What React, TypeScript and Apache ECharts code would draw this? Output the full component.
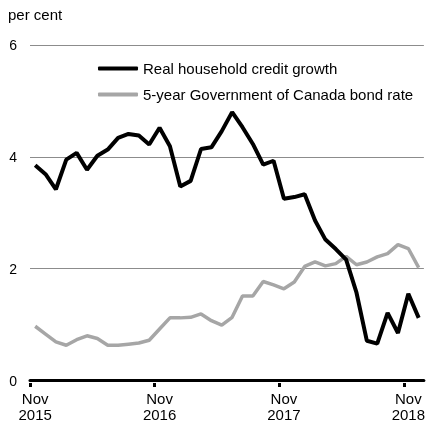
import React, { useEffect, useRef } from "react";
import * as echarts from "echarts";

const categories = [
  "Nov 2015", "Dec 2015", "Jan 2016", "Feb 2016", "Mar 2016", "Apr 2016", "May 2016", "Jun 2016",
  "Jul 2016", "Aug 2016", "Sep 2016", "Oct 2016", "Nov 2016", "Dec 2016", "Jan 2017", "Feb 2017",
  "Mar 2017", "Apr 2017", "May 2017", "Jun 2017", "Jul 2017", "Aug 2017", "Sep 2017", "Oct 2017",
  "Nov 2017", "Dec 2017", "Jan 2018", "Feb 2018", "Mar 2018", "Apr 2018", "May 2018", "Jun 2018",
  "Jul 2018", "Aug 2018", "Sep 2018", "Oct 2018", "Nov 2018", "Dec 2018",
];

const creditGrowth = [
  3.85, 3.69, 3.42, 3.95, 4.07, 3.77, 4.02, 4.13, 4.34, 4.41, 4.38, 4.22, 4.52, 4.19, 3.47, 3.57,
  4.14, 4.17, 4.46, 4.8, 4.53, 4.23, 3.86, 3.93, 3.25, 3.28, 3.33, 2.86, 2.52, 2.35, 2.16, 1.57,
  0.71, 0.66, 1.21, 0.85, 1.55, 1.12,
];

const bondRate = [
  0.97, 0.83, 0.69, 0.63, 0.73, 0.8, 0.75, 0.63, 0.63, 0.65, 0.67, 0.72, 0.92, 1.12, 1.12, 1.13,
  1.19, 1.07, 0.99, 1.13, 1.51, 1.51, 1.77, 1.71, 1.64, 1.76, 2.04, 2.12, 2.05, 2.09, 2.22, 2.07,
  2.12, 2.21, 2.27, 2.43, 2.36, 2.02,
];

const yTicks = [0, 2, 4, 6];

const seriesNames = ["Real household credit growth", "5-year Government of Canada bond rate"];

const FONT = "'Liberation Sans', Arial, sans-serif";

export default function App() {
  const ref = useRef<HTMLDivElement>(null);
  useEffect(() => {
    if (!ref.current) return;
    const chart = echarts.init(ref.current, null, { renderer: "svg" });
    const W = 428;
    const left = 30;
    const right = 3;
    const plotW = W - left - right;
    const tickGridW = (plotW * 36) / categories.length;
    chart.setOption({
      animation: false,
      textStyle: { fontFamily: FONT },
      title: {
        text: "per cent",
        left: 8,
        top: 7,
        padding: 0,
        textStyle: { fontSize: 15, fontWeight: "normal", color: "#000", fontFamily: FONT },
      },
      legend: {
        orient: "vertical",
        left: 93,
        top: 56,
        itemWidth: 40,
        itemHeight: 4,
        itemGap: 11,
        icon: "roundRect",
        data: seriesNames,
        textStyle: { fontSize: 15, color: "#000", fontFamily: FONT },
      },
      grid: [
        { left, right, top: 45, bottom: 39 },
        { left, width: tickGridW, top: 45, bottom: 39 },
      ],
      xAxis: [
        {
          type: "category",
          gridIndex: 0,
          data: categories,
          boundaryGap: true,
          axisLine: { show: true, lineStyle: { color: "#000", width: 3 } },
          axisTick: { show: false },
          axisLabel: {
            interval: (i: number) => i % 12 === 0,
            margin: 10.5,
            fontSize: 15,
            lineHeight: 15.5,
            color: "#000",
            fontFamily: FONT,
            formatter: (v: string) => v.replace(" ", "\n"),
          },
          z: 5,
        },
        {
          type: "value",
          gridIndex: 1,
          min: 0,
          max: 36,
          interval: 12,
          axisLine: { show: false },
          axisTick: { show: true, length: 4, lineStyle: { color: "#000", width: 3 } },
          splitLine: { show: false },
          axisLabel: { show: false },
        },
      ],
      yAxis: [
        {
          type: "value",
          gridIndex: 0,
          min: yTicks[0],
          max: yTicks[yTicks.length - 1],
          interval: 2,
          axisLine: { show: false },
          axisTick: { show: false },
          axisLabel: { margin: 13, fontSize: 14, color: "#000", fontFamily: FONT },
          splitLine: { show: true, lineStyle: { color: "#8c8c8c", width: 1 } },
        },
        { type: "value", gridIndex: 1, min: 0, max: 6, show: false },
      ],
      series: [
        {
          name: seriesNames[0],
          type: "line",
          xAxisIndex: 0,
          yAxisIndex: 0,
          data: creditGrowth,
          showSymbol: false,
          symbol: "none",
          lineStyle: { color: "#000", width: 4 },
          itemStyle: { color: "#000" },
          z: 4,
        },
        {
          name: seriesNames[1],
          type: "line",
          xAxisIndex: 0,
          yAxisIndex: 0,
          data: bondRate,
          showSymbol: false,
          symbol: "none",
          lineStyle: { color: "#a6a6a6", width: 3.5 },
          itemStyle: { color: "#a6a6a6" },
          z: 3,
        },
      ],
    });
    return () => chart.dispose();
  }, []);
  return (
    <div
      ref={ref}
      style={{ position: "fixed", left: 0, top: 0, width: 428, height: 422 }}
    />
  );
}
